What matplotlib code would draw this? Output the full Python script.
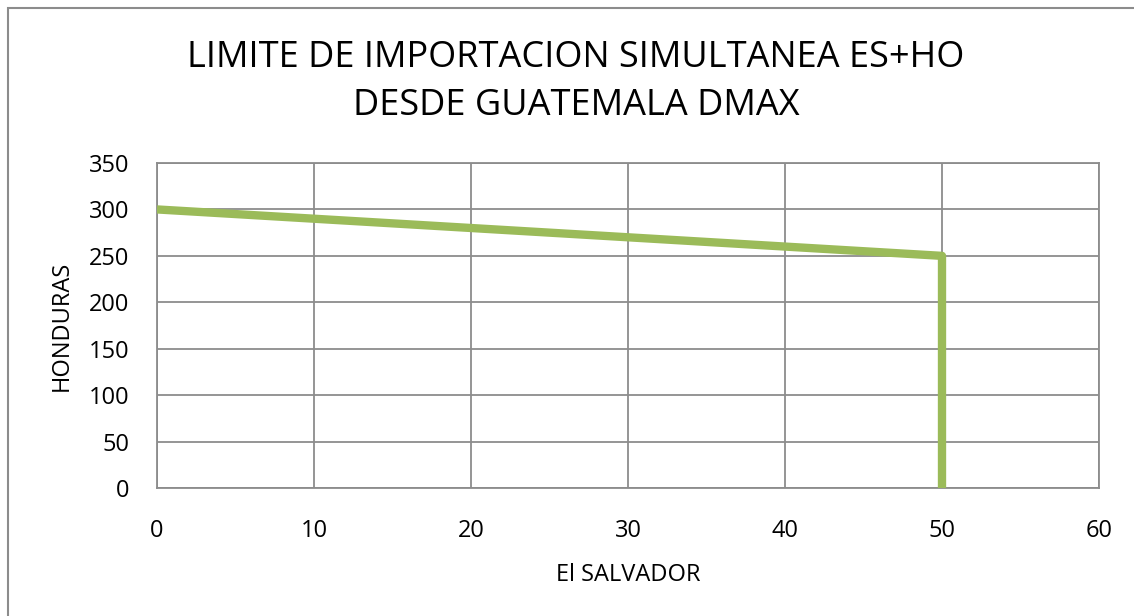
import matplotlib
matplotlib.use("Agg")
import matplotlib.pyplot as plt
from matplotlib.patches import Rectangle

# data
el_salvador = [0, 50, 50]
honduras = [300, 250, 0]
x_ticks = [0, 10, 20, 30, 40, 50, 60]
y_ticks = [0, 50, 100, 150, 200, 250, 300, 350]

plt.rcParams["font.family"] = ["Open Sans", "DejaVu Sans"]

fig = plt.figure(figsize=(11.34, 6.16), dpi=100)
fig.patch.set_facecolor("white")

# outer chart frame (only top and left edges visible)
fig.patches.append(Rectangle((8 / 1134, -0.1), 1.2, (616 - 8) / 616 + 0.1,
                             transform=fig.transFigure, fill=False,
                             edgecolor="#8c8c8c", linewidth=1.5))

ax = fig.add_axes([157 / 1134, 1 - 488 / 616, (1099 - 157) / 1134, (488 - 163) / 616])
ax.plot(el_salvador, honduras, color="#9BBB59", linewidth=6, solid_joinstyle="round",
        solid_capstyle="butt", zorder=3)

ax.set_xlim(0, 60)
ax.set_ylim(0, 350)
ax.set_xticks(x_ticks)
ax.set_yticks(y_ticks)
ax.grid(True, color="#8c8c8c", linewidth=1.3)
ax.set_axisbelow(True)
for s in ax.spines.values():
    s.set_color("#8c8c8c")
    s.set_linewidth(1.3)
ax.tick_params(length=0, labelsize=17)
ax.tick_params(axis="x", pad=22)
ax.tick_params(axis="y", pad=20)

fig.text(576 / 1134, 1 - 82 / 616, "LIMITE DE IMPORTACION SIMULTANEA ES+HO\nDESDE GUATEMALA DMAX",
         ha="center", va="center", fontsize=26, linespacing=1.42)
ax.set_xlabel("El SALVADOR", fontsize=17, labelpad=15)
ax.set_ylabel("HONDURAS", fontsize=17, labelpad=11)

fig.savefig("out.png", dpi=100)
